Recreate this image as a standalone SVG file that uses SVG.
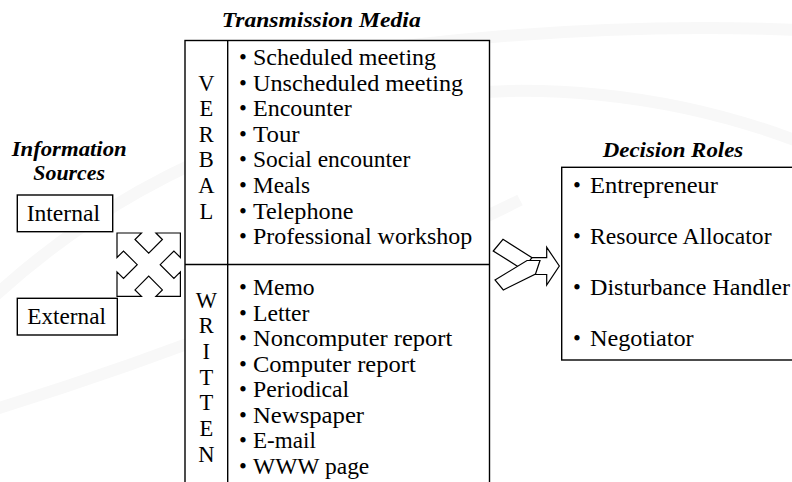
<svg xmlns="http://www.w3.org/2000/svg" width="792" height="482" viewBox="0 0 792 482">
<style>
.t{font-family:"Liberation Serif","Times New Roman",serif;font-size:22.5px;fill:#000}
.h{font-family:"Liberation Serif","Times New Roman",serif;font-size:21px;font-weight:bold;font-style:italic;fill:#000}
.box{fill:#fff;stroke:#000;stroke-width:1.4}
.ln{stroke:#000;stroke-width:1.4;fill:none}
.sh{fill:#fff;stroke:#000;stroke-width:1.2;stroke-linejoin:miter}
.bg{fill:none;stroke:#f8f8f8;stroke-width:12}
</style>
<rect width="792" height="482" fill="#fff"/>
<g id="background">
<path class="bg" d="M -40 330 A 780 780 0 0 1 820 150"/>
<path class="bg" d="M 300 60 Q 560 20 800 30"/>
<path class="bg" d="M -40 420 Q 260 330 520 200"/>
</g>

<g id="information-sources">
<text class="h" x="11.7" y="156" textLength="115" lengthAdjust="spacingAndGlyphs">Information</text>
<text class="h" x="33.3" y="180" textLength="71.7" lengthAdjust="spacingAndGlyphs">Sources</text>
</g>
<g id="internal">
<rect class="box" x="17.3" y="195" width="95.4" height="36.7"/>
<text class="t" x="26.7" y="220.5" textLength="73.3" lengthAdjust="spacingAndGlyphs">Internal</text>
</g>
<g id="external">
<rect class="box" x="17.3" y="298.3" width="100" height="36.7"/>
<text class="t" x="27.3" y="323.8" textLength="78.7" lengthAdjust="spacingAndGlyphs">External</text>
</g>

<g id="transmission-media">
<text class="h" x="221.7" y="26.5" textLength="199" lengthAdjust="spacingAndGlyphs">Transmission  Media</text>
<rect class="box" x="185" y="40.5" width="304.5" height="460"/>
<line class="ln" x1="227.7" y1="40.5" x2="227.7" y2="500"/>
<line class="ln" x1="185" y1="264.5" x2="489.5" y2="264.5"/>
</g>

<g id="verbal">
<g text-anchor="middle">
<text class="t" x="206.3" y="90.6">V</text>
<text class="t" x="206.3" y="116.2">E</text>
<text class="t" x="206.3" y="141.8">R</text>
<text class="t" x="206.3" y="167.4">B</text>
<text class="t" x="206.3" y="193">A</text>
<text class="t" x="206.3" y="218.6">L</text>
</g>
<text class="t" x="239" y="65">•<tspan x="253" textLength="183" lengthAdjust="spacingAndGlyphs">Scheduled meeting</tspan></text>
<text class="t" x="239" y="90.6">•<tspan x="253" textLength="210.2" lengthAdjust="spacingAndGlyphs">Unscheduled meeting</tspan></text>
<text class="t" x="239" y="116.2">•<tspan x="253" textLength="98.7" lengthAdjust="spacingAndGlyphs">Encounter</tspan></text>
<text class="t" x="239" y="141.8">•<tspan x="253" textLength="46.6" lengthAdjust="spacingAndGlyphs">Tour</tspan></text>
<text class="t" x="239" y="167.4">•<tspan x="253" textLength="157.3" lengthAdjust="spacingAndGlyphs">Social encounter</tspan></text>
<text class="t" x="239" y="193">•<tspan x="253" textLength="57" lengthAdjust="spacingAndGlyphs">Meals</tspan></text>
<text class="t" x="239" y="218.6">•<tspan x="253" textLength="100.5" lengthAdjust="spacingAndGlyphs">Telephone</tspan></text>
<text class="t" x="239" y="244.2">•<tspan x="253" textLength="219.2" lengthAdjust="spacingAndGlyphs">Professional workshop</tspan></text>
</g>

<g id="written">
<g text-anchor="middle">
<text class="t" x="206.3" y="307.5">W</text>
<text class="t" x="206.3" y="333.2">R</text>
<text class="t" x="206.3" y="358.9">I</text>
<text class="t" x="206.3" y="384.6">T</text>
<text class="t" x="206.3" y="410.3">T</text>
<text class="t" x="206.3" y="436">E</text>
<text class="t" x="206.3" y="461.7">N</text>
</g>
<text class="t" x="239" y="295">•<tspan x="253" textLength="61.6" lengthAdjust="spacingAndGlyphs">Memo</tspan></text>
<text class="t" x="239" y="320.5">•<tspan x="253" textLength="56.5" lengthAdjust="spacingAndGlyphs">Letter</tspan></text>
<text class="t" x="239" y="346">•<tspan x="253" textLength="199.3" lengthAdjust="spacingAndGlyphs">Noncomputer report</tspan></text>
<text class="t" x="239" y="371.5">•<tspan x="253" textLength="162.7" lengthAdjust="spacingAndGlyphs">Computer report</tspan></text>
<text class="t" x="239" y="397">•<tspan x="253" textLength="96.2" lengthAdjust="spacingAndGlyphs">Periodical</tspan></text>
<text class="t" x="239" y="422.5">•<tspan x="253" textLength="111.1" lengthAdjust="spacingAndGlyphs">Newspaper</tspan></text>
<text class="t" x="239" y="448">•<tspan x="253" textLength="62.8" lengthAdjust="spacingAndGlyphs">E-mail</tspan></text>
<text class="t" x="239" y="473.5">•<tspan x="253" textLength="116.3" lengthAdjust="spacingAndGlyphs">WWW page</tspan></text>
</g>

<g id="decision-roles">
<text class="h" x="602.7" y="156.7" textLength="140.6" lengthAdjust="spacingAndGlyphs">Decision Roles</text>
<rect class="box" x="561.7" y="167.3" width="250" height="192.7"/>
<text class="t" x="573" y="192.5">•<tspan x="590" textLength="128" lengthAdjust="spacingAndGlyphs">Entrepreneur</tspan></text>
<text class="t" x="573" y="243.7">•<tspan x="590" textLength="181.5" lengthAdjust="spacingAndGlyphs">Resource Allocator</tspan></text>
<text class="t" x="573" y="294.8">•<tspan x="590" textLength="200" lengthAdjust="spacingAndGlyphs">Disturbance Handler</tspan></text>
<text class="t" x="573" y="346">•<tspan x="590" textLength="103.6" lengthAdjust="spacingAndGlyphs">Negotiator</tspan></text>
</g>

<g id="connectors">
<path class="sh" transform="translate(148.7 264.7)" d="M -31.7 -31.7 L -7.2 -31.7 L -13.7 -25.2 L 0 -11.5 L 13.7 -25.2 L 7.2 -31.7 L 31.7 -31.7 L 31.7 -7.2 L 25.2 -13.7 L 11.5 0 L 25.2 13.7 L 31.7 7.2 L 31.7 31.7 L 7.2 31.7 L 13.7 25.2 L 0 11.5 L -13.7 25.2 L -7.2 31.7 L -31.7 31.7 L -31.7 7.2 L -25.2 13.7 L -11.5 0 L -25.2 -13.7 L -31.7 -7.2 Z"/>
<polygon class="sh" points="528,257.7 546.7,257.7 546.7,247.3 559.3,266 546.7,285 546.7,274.5 528,274.5"/>
<polygon class="sh" points="493.3,251 503,239.3 532,257.7 522.5,269.5"/>
<polygon class="sh" points="495,280 527,260.5 540,260.5 535.5,274 503.3,290"/>
</g>
</svg>
